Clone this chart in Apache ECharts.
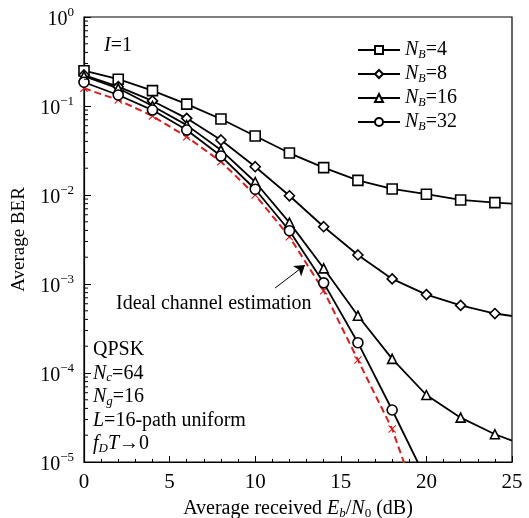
<!DOCTYPE html>
<html>
<head>
<meta charset="utf-8">
<script src="https://cdn.jsdelivr.net/npm/echarts@6/dist/echarts.min.js"></script>
<style>
  html, body { margin: 0; padding: 0; background: #fff; }
  #chart { width: 529px; height: 518px; }
</style>
</head>
<body>
<div id="chart"></div>
<script>
// Eb/N0 (dB) 横轴
const snrNB = [0, 2, 4, 6, 8, 10, 12, 14, 16, 18, 20, 22, 24, 25];
const snrSteep = [0, 2, 4, 6, 8, 10, 12, 14, 16, 18, 20];

// 平均BER
const berNB4 = [0.249, 0.20, 0.149, 0.105, 0.0714, 0.046, 0.0296, 0.0203, 0.0146, 0.0117, 0.0102, 0.0088, 0.0082, 0.0080];
const berNB8 = [0.223, 0.165, 0.114, 0.0727, 0.0415, 0.0208, 0.0098, 0.0044, 0.00212, 0.00114, 0.00076, 0.000575, 0.000466, 0.000437];
const berNB16 = [0.217, 0.158, 0.100, 0.061, 0.032, 0.0140, 0.00489, 0.0015, 0.00044, 0.000144, 5.66e-5, 3.15e-5, 2.05e-5, 1.74e-5];
const berNB32 = [0.185, 0.133, 0.090, 0.0537, 0.0274, 0.0116, 0.00397, 0.00103, 0.000219, 3.84e-5, 6.3e-6];
const berIdeal = [0.158, 0.117, 0.077, 0.045, 0.0237, 0.0100, 0.0034, 0.00084, 0.00014, 2.35e-5, 1.9e-6];

const legendNames = ["NB=4", "NB=8", "NB=16", "NB=32"];

const FONT = "Liberation Serif";
const Y_MIN = 1e-5;

// 奇数点(25dB)和低于轴下限的点不画符号
function toData(xs, ys) {
  return xs.map((x, i) => {
    if (x % 2 === 1 || ys[i] < Y_MIN) {
      return { value: [x, ys[i]], symbol: "none" };
    }
    return [x, ys[i]];
  });
}

// 对数轴的次刻度 2..9 x 10^k
const minorTicks = [];
for (let k = -5; k < 0; k++) {
  for (let m = 2; m <= 9; m++) {
    minorTicks.push([0, m * Math.pow(10, k)]);
  }
}

const crossPath = "path://M0,1L1,0L5,4L9,0L10,1L6,5L10,9L9,10L5,6L1,10L0,9L4,5Z";

function blackSeries(name, xs, ys, symbol, size) {
  return {
    name: name,
    type: "line",
    data: toData(xs, ys),
    symbol: symbol,
    symbolSize: size,
    showAllSymbol: true,
    z: 3,
    lineStyle: { color: "#000", width: 1.8 },
    itemStyle: { color: "#fff", borderColor: "#000", borderWidth: 1.6 },
    emphasis: { disabled: true },
  };
}

const chart = echarts.init(document.getElementById("chart"));

const option = {
  backgroundColor: "#fff",
  animation: false,
  textStyle: { fontFamily: FONT, color: "#000" },
  grid: {
    left: 84,
    right: 17,
    top: 17,
    bottom: 56,
    outerBoundsMode: "none",
    show: true,
    borderColor: "#000",
    borderWidth: 1.2,
  },
  legend: {
    data: legendNames,
    orient: "vertical",
    left: 352,
    top: 35,
    itemWidth: 42,
    itemHeight: 10,
    itemGap: 3.5,
    selectedMode: false,
    formatter: (name) => {
      const n = name.slice(3);
      return "{i|N}{s|B}{t|=" + n + "}";
    },
    textStyle: {
      fontFamily: FONT,
      rich: {
        i: { fontFamily: FONT, fontStyle: "italic", fontSize: 20, color: "#000" },
        s: { fontFamily: FONT, fontStyle: "italic", fontSize: 12, color: "#000", padding: [9, 0, 0, 0] },
        t: { fontFamily: FONT, fontSize: 20, color: "#000" },
      },
    },
  },
  xAxis: {
    type: "value",
    min: 0,
    max: 25,
    interval: 5,
    name: "{t|Average received }{i|E}{s|b}{t|/}{i|N}{n|0}{t| (dB)}",
    nameLocation: "middle",
    nameGap: 36,
    nameTextStyle: {
      rich: {
        t: { fontFamily: FONT, fontSize: 20, color: "#000" },
        i: { fontFamily: FONT, fontStyle: "italic", fontSize: 20, color: "#000" },
        s: { fontFamily: FONT, fontStyle: "italic", fontSize: 13, color: "#000", padding: [9, 0, 0, 0] },
        n: { fontFamily: FONT, fontSize: 13, color: "#000", padding: [9, 0, 0, 0] },
      },
    },
    axisLine: { show: true, onZero: false, lineStyle: { color: "#000", width: 1.2 } },
    axisTick: { show: true, inside: true, length: 6, lineStyle: { color: "#000" } },
    minorTick: { show: true, splitNumber: 5, length: 3, lineStyle: { color: "#000" } },
    splitLine: { show: false },
    axisLabel: { fontFamily: FONT, fontSize: 21, color: "#000", margin: 10 },
  },
  yAxis: {
    type: "log",
    min: Y_MIN,
    max: 1,
    logBase: 10,
    name: "Average BER",
    nameLocation: "middle",
    nameGap: 55,
    nameTextStyle: { fontFamily: FONT, fontSize: 19, color: "#000" },
    axisLine: { show: true, onZero: false, lineStyle: { color: "#000", width: 1.2 } },
    axisTick: { show: true, inside: true, length: 7, lineStyle: { color: "#000" } },
    splitLine: { show: false },
    axisLabel: {
      margin: 10,
      formatter: (v) => {
        const p = Math.round(Math.log10(v));
        const sup = p < 0 ? "\u2212" + (-p) : String(p);
        return "{b|10}{p|" + sup + "}";
      },
      rich: {
        b: { fontFamily: FONT, fontSize: 20, color: "#000", padding: [6, 0, 0, 0] },
        p: { fontFamily: FONT, fontSize: 13, color: "#000", padding: [0, 0, 8, 0] },
      },
    },
  },
  graphic: [
    {
      type: "text",
      left: 104,
      top: 36,
      style: {
        text: "{i|I}{t|=1}",
        rich: {
          i: { fontFamily: FONT, fontStyle: "italic", fontSize: 20, fill: "#000" },
          t: { fontFamily: FONT, fontSize: 20, fill: "#000" },
        },
      },
    },
    {
      type: "text",
      left: 116,
      top: 294,
      style: { text: "Ideal channel estimation", font: "20px " + FONT, fill: "#000" },
    },
    {
      type: "text",
      left: 93,
      top: 338,
      style: {
        text: [
          "{t|QPSK}",
          "{i|N}{s|c}{t|=64}",
          "{i|N}{s|g}{t|=16}",
          "{i|L}{t|=16-path uniform}",
          "{i|f}{s|D}{i|T}{t|\u21920}",
        ].join("\n"),
        lineHeight: 23.5,
        rich: {
          t: { fontFamily: FONT, fontSize: 20, fill: "#000", lineHeight: 23.5 },
          i: { fontFamily: FONT, fontStyle: "italic", fontSize: 20, fill: "#000", lineHeight: 23.5 },
          s: { fontFamily: FONT, fontStyle: "italic", fontSize: 13, fill: "#000", padding: [9, 0, 0, 0], lineHeight: 23.5 },
        },
      },
    },
  ],
  series: [
    {
      name: "Ideal",
      type: "line",
      data: toData(snrSteep, berIdeal),
      symbol: crossPath,
      symbolSize: 8,
      showAllSymbol: true,
      z: 2,
      lineStyle: { color: "#d21f1f", width: 2, type: [7, 4] },
      itemStyle: { color: "#d21f1f" },
      emphasis: { disabled: true },
      markLine: {
        silent: true,
        symbol: ["none", "arrow"],
        symbolSize: 10,
        label: { show: false },
        lineStyle: { color: "#000", width: 1, type: "solid" },
        data: [[{ coord: [11.16, 9.0e-4] }, { coord: [12.91, 1.63e-3] }]],
      },
    },
    blackSeries("NB=4", snrNB, berNB4, "rect", 10),
    blackSeries("NB=8", snrNB, berNB8, "diamond", 10),
    blackSeries("NB=16", snrNB, berNB16, "triangle", 9),
    blackSeries("NB=32", snrSteep, berNB32, "circle", 10),
    {
      name: "minor",
      type: "custom",
      data: minorTicks,
      silent: true,
      clip: false,
      z: 4,
      renderItem: (params, api) => {
        const p = api.coord([api.value(0), api.value(1)]);
        return {
          type: "line",
          shape: { x1: p[0], y1: p[1], x2: p[0] + 4, y2: p[1] },
          style: { stroke: "#000", lineWidth: 1 },
        };
      },
    },
  ],
};

option && chart.setOption(option);
</script>
</body>
</html>
